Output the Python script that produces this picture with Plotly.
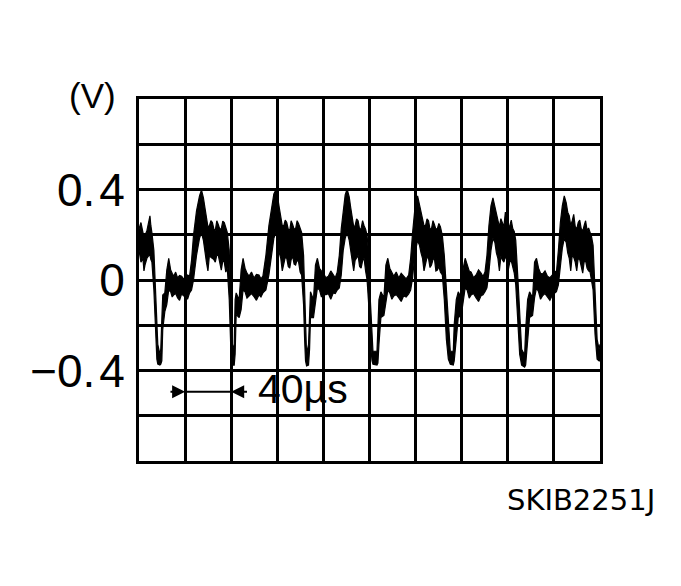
import plotly.graph_objects as go

# time axis in microseconds (10 divisions x 40 us); one line per stretch of the trace
time_us = (
    [0.0, 1.7, 3.4, 4.3, 5.2, 6.9, 8.6, 9.5, 10.3, 11.2, 12.9, 14.6, 15.5, 16.3, 18.1]
    + [18.9, 19.8, 20.6, 22.4, 24.1, 25.8, 27.5, 28.8, 30.1, 31.8, 33.5, 35.2, 37.0, 38.7, 40.4, 42.1, 43.9, 45.6, 47.3, 49.9, 52.5, 54.2]
    + [55.9, 57.2, 58.5, 59.8, 61.1, 62.4, 63.7, 65.0, 66.2, 67.5, 68.8, 70.1, 71.4, 72.7, 74.0, 75.3, 76.6, 78.3, 79.1, 80.0, 80.9]
    + [82.6, 83.4, 84.3, 86.9, 88.6, 90.3, 92.0, 93.7, 95.5, 97.6, 99.8, 101.9, 104.1, 105.8, 107.5, 110.1, 112.7, 115.3, 117.0, 118.7]
    + [120.4, 121.7, 123.0, 124.3, 125.6, 126.9, 128.2, 129.5, 130.8, 132.0, 133.3, 134.6, 135.9, 137.2, 138.5, 139.8, 141.1, 142.8, 143.7, 144.5, 145.4]
    + [147.1, 148.0, 148.8, 151.4, 153.1, 154.8, 156.6, 158.3, 160.0, 162.1, 164.3, 166.4, 168.6, 170.3, 172.0, 173.8, 175.5, 177.2, 178.9, 180.6]
    + [182.4, 183.7, 185.0, 186.3, 187.5, 188.8, 190.1, 191.4, 192.7, 194.0, 195.3, 196.6, 197.9, 199.6, 200.5, 202.2, 203.0, 206.5]
    + [207.3, 208.2, 209.9, 212.5, 214.2, 215.9, 217.6, 219.4, 221.1, 223.2, 225.4, 227.5, 229.7, 231.8, 234.0, 235.7, 237.4, 239.2, 241.7]
    + [243.4, 244.7, 246.0, 247.3, 248.6, 249.9, 251.2, 252.5, 253.8, 255.1, 256.3, 257.6, 258.9, 260.2, 261.5, 263.2, 264.9, 266.7, 268.4, 270.1, 272.7]
    + [273.5, 275.3, 277.0, 279.6, 281.3, 283.0, 284.7, 286.5, 288.2, 290.3, 292.5, 294.6, 296.8, 298.5, 300.2, 301.9, 303.6, 305.4, 307.1]
    + [308.8, 310.1, 311.4, 312.7, 314.0, 315.3, 316.6, 317.9, 319.1, 320.4, 321.7, 323.0, 324.3, 325.6, 326.9, 328.6, 330.3, 332.0, 334.6]
    + [335.5, 337.2, 338.9, 341.5, 343.2, 344.9, 346.7, 348.4, 350.1, 352.3, 354.4, 356.5, 358.7, 360.4, 362.2, 363.9, 365.6, 367.3, 369.0]
    + [370.7, 372.0, 373.3, 374.6, 375.9, 377.2, 378.5, 379.8, 381.1, 382.4, 383.7, 385.0, 386.2, 387.5, 388.8, 390.1, 391.4, 392.7, 394.0, 395.7, 397.5, 399.2, 400.0]
)

# upper edge of the noisy trace (V)
v_upper = (
    [0.227, 0.254, 0.210, 0.205, 0.197, 0.219, 0.254, 0.284, 0.240, 0.210, 0.131, -0.044, -0.175, -0.284, -0.328]
    + [-0.306, -0.175, -0.066, -0.057, 0.044, 0.096, 0.044, 0.030, 0.017, 0.035, 0.009, 0.020, 0.017, 0.005, 0.000, 0.022, 0.017, 0.087, 0.197, 0.306, 0.372, 0.398]
    + [0.363, 0.320, 0.284, 0.235, 0.240, 0.262, 0.254, 0.225, 0.219, 0.262, 0.245, 0.225, 0.227, 0.260, 0.254, 0.225, 0.210, 0.131, -0.044, -0.219, -0.315]
    + [-0.284, -0.087, -0.057, -0.087, 0.044, 0.096, 0.052, 0.030, 0.017, 0.035, 0.009, 0.025, 0.022, 0.005, 0.017, 0.109, 0.240, 0.328, 0.380, 0.398]
    + [0.363, 0.320, 0.284, 0.240, 0.240, 0.265, 0.254, 0.225, 0.219, 0.262, 0.245, 0.225, 0.227, 0.262, 0.249, 0.225, 0.210, 0.109, -0.044, -0.240, -0.328]
    + [-0.284, -0.087, -0.052, -0.087, 0.066, 0.096, 0.052, 0.040, 0.031, 0.010, 0.017, 0.040, 0.026, 0.010, 0.035, 0.109, 0.227, 0.315, 0.376, 0.402]
    + [0.367, 0.320, 0.284, 0.235, 0.240, 0.270, 0.262, 0.225, 0.227, 0.262, 0.240, 0.225, 0.197, 0.096, -0.066, -0.240, -0.315, -0.315]
    + [-0.219, -0.087, -0.052, -0.079, 0.066, 0.096, 0.052, 0.030, 0.017, 0.035, 0.009, 0.030, 0.017, 0.005, 0.022, 0.096, 0.210, 0.306, 0.372]
    + [0.328, 0.300, 0.271, 0.240, 0.240, 0.270, 0.262, 0.225, 0.227, 0.262, 0.245, 0.225, 0.227, 0.250, 0.236, 0.197, 0.109, -0.044, -0.219, -0.315, -0.315]
    + [-0.197, -0.087, -0.052, -0.079, 0.052, 0.096, 0.066, 0.040, 0.035, 0.010, 0.022, 0.045, 0.031, 0.015, 0.035, 0.109, 0.240, 0.328, 0.363]
    + [0.328, 0.290, 0.262, 0.235, 0.271, 0.250, 0.236, 0.300, 0.284, 0.235, 0.240, 0.265, 0.227, 0.215, 0.175, 0.022, -0.175, -0.306, -0.332]
    + [-0.219, -0.087, -0.052, -0.079, 0.079, 0.096, 0.052, 0.030, 0.026, 0.040, 0.017, 0.010, 0.022, 0.040, 0.035, 0.131, 0.254, 0.328, 0.372]
    + [0.341, 0.300, 0.284, 0.240, 0.262, 0.290, 0.236, 0.225, 0.254, 0.265, 0.227, 0.215, 0.240, 0.262, 0.219, 0.230, 0.210, 0.190, 0.153, -0.044, -0.262, -0.306, -0.284]
)

# lower edge of the noisy trace (V)
v_lower = (
    [0.131, 0.079, 0.096, 0.040, 0.066, 0.096, 0.109, 0.109, 0.090, 0.079, -0.044, -0.262, -0.350, -0.372, -0.376]
    + [-0.372, -0.358, -0.219, -0.140, -0.109, -0.044, -0.052, -0.075, -0.066, -0.060, -0.079, -0.090, -0.061, -0.070, -0.070, -0.085, -0.057, -0.044, 0.000, 0.109, 0.184, 0.210]
    + [0.175, 0.120, 0.079, 0.040, 0.109, 0.100, 0.096, 0.090, 0.079, 0.110, 0.109, 0.070, 0.044, 0.085, 0.079, 0.035, 0.052, -0.087, -0.240, -0.358, -0.376]
    + [-0.376, -0.328, -0.153, -0.166, -0.131, -0.044, -0.052, -0.080, -0.070, -0.060, -0.074, -0.090, -0.066, -0.075, -0.057, -0.044, 0.022, 0.131, 0.184, 0.210]
    + [0.175, 0.120, 0.096, 0.040, 0.079, 0.100, 0.096, 0.060, 0.052, 0.090, 0.105, 0.070, 0.066, 0.090, 0.079, 0.035, 0.022, -0.109, -0.262, -0.358, -0.380]
    + [-0.376, -0.306, -0.166, -0.166, -0.087, -0.035, -0.044, -0.075, -0.052, -0.065, -0.061, -0.085, -0.057, -0.060, -0.044, -0.035, 0.022, 0.131, 0.184, 0.210]
    + [0.175, 0.130, 0.096, 0.040, 0.087, 0.100, 0.109, 0.060, 0.052, 0.085, 0.096, 0.040, 0.000, -0.131, -0.262, -0.358, -0.372, -0.376]
    + [-0.367, -0.284, -0.166, -0.157, -0.087, -0.044, -0.057, -0.085, -0.070, -0.065, -0.079, -0.095, -0.070, -0.075, -0.061, -0.044, 0.009, 0.109, 0.175]
    + [0.153, 0.120, 0.096, 0.040, 0.079, 0.100, 0.096, 0.055, 0.066, 0.090, 0.096, 0.040, 0.044, 0.060, 0.035, 0.022, -0.087, -0.262, -0.350, -0.372, -0.376]
    + [-0.358, -0.262, -0.166, -0.157, -0.087, -0.035, -0.044, -0.080, -0.066, -0.060, -0.079, -0.095, -0.070, -0.065, -0.052, -0.035, 0.035, 0.131, 0.184]
    + [0.166, 0.120, 0.096, 0.040, 0.105, 0.090, 0.079, 0.100, 0.096, 0.045, 0.079, 0.085, 0.052, 0.030, -0.022, -0.175, -0.328, -0.376, -0.385]
    + [-0.376, -0.284, -0.166, -0.157, -0.079, -0.035, -0.052, -0.085, -0.070, -0.060, -0.074, -0.090, -0.066, -0.060, -0.052, -0.022, 0.052, 0.140, 0.184]
    + [0.166, 0.120, 0.096, 0.040, 0.109, 0.100, 0.079, 0.040, 0.096, 0.090, 0.066, 0.030, 0.079, 0.085, 0.052, 0.040, 0.035, 0.000, -0.044, -0.240, -0.350, -0.358, -0.358]
)

x_grid = [0, 40, 80, 120, 160, 200, 240, 280, 320, 360, 400]
y_grid = [-0.8, -0.6, -0.4, -0.2, 0.0, 0.2, 0.4, 0.6, 0.8]
y_labels = ["", "", "\u22120.\u200a4", "", "0", "", "0.\u200a4", "", ""]

scale_label = "40\u00b5s"
scale_from, scale_to, scale_y = 40, 80, -0.494

FONT = "Liberation Sans, Arial, sans-serif"

fig = go.Figure()
fig.add_trace(go.Scatter(x=time_us, y=v_lower, mode="lines",
                         line=dict(color="black", width=1.2), hoverinfo="skip", showlegend=False))
fig.add_trace(go.Scatter(x=time_us, y=v_upper, mode="lines",
                         line=dict(color="black", width=1.2), fill="tonexty", fillcolor="black",
                         hoverinfo="skip", showlegend=False))

fig.update_xaxes(range=[0, 400], tickvals=x_grid, showticklabels=False, ticks="",
                 showgrid=True, gridcolor="black", gridwidth=3, zeroline=False,
                 showline=True, linecolor="black", linewidth=3, mirror=True, fixedrange=True)
fig.update_yaxes(range=[-0.8, 0.8], tickvals=y_grid, ticktext=y_labels, ticks="",
                 tickfont=dict(family=FONT, size=46, color="black"),
                 ticklabelstandoff=2,
                 showgrid=True, gridcolor="black", gridwidth=3, zeroline=False,
                 showline=True, linecolor="black", linewidth=3, mirror=True, fixedrange=True)

# scale marker: arrows pointing to one division
fig.add_shape(type="line", x0=scale_from, x1=scale_to, y0=scale_y, y1=scale_y,
              line=dict(color="black", width=2))
fig.add_annotation(x=scale_from, y=scale_y, ax=scale_from - 14, ay=scale_y, axref="x", ayref="y",
                   text="", showarrow=True, arrowhead=2, arrowsize=1.3, arrowwidth=2, arrowcolor="black")
fig.add_annotation(x=scale_to, y=scale_y, ax=scale_to + 15, ay=scale_y, axref="x", ayref="y",
                   text="", showarrow=True, arrowhead=2, arrowsize=1.3, arrowwidth=2, arrowcolor="black")
fig.add_annotation(x=142, y=-0.481, text=scale_label, showarrow=False, xanchor="center", yanchor="middle",
                   font=dict(family=FONT, size=41, color="black"))

fig.add_annotation(x=-0.1006, y=1.01, xref="paper", yref="paper", text="(V)", showarrow=False,
                   xanchor="center", yanchor="middle",
                   font=dict(family=FONT, size=35, color="black"))
fig.add_annotation(x=1.1245, y=-0.1088, xref="paper", yref="paper", text="SKIB2251J", showarrow=False,
                   xanchor="right", yanchor="middle",
                   font=dict(family="DejaVu Sans, sans-serif", size=29, color="black"))

fig.update_layout(width=665, height=570, margin=dict(l=130.5, r=72.5, t=90.5, b=116.5),
                  paper_bgcolor="white", plot_bgcolor="white", showlegend=False)

fig.write_html("out.html")
